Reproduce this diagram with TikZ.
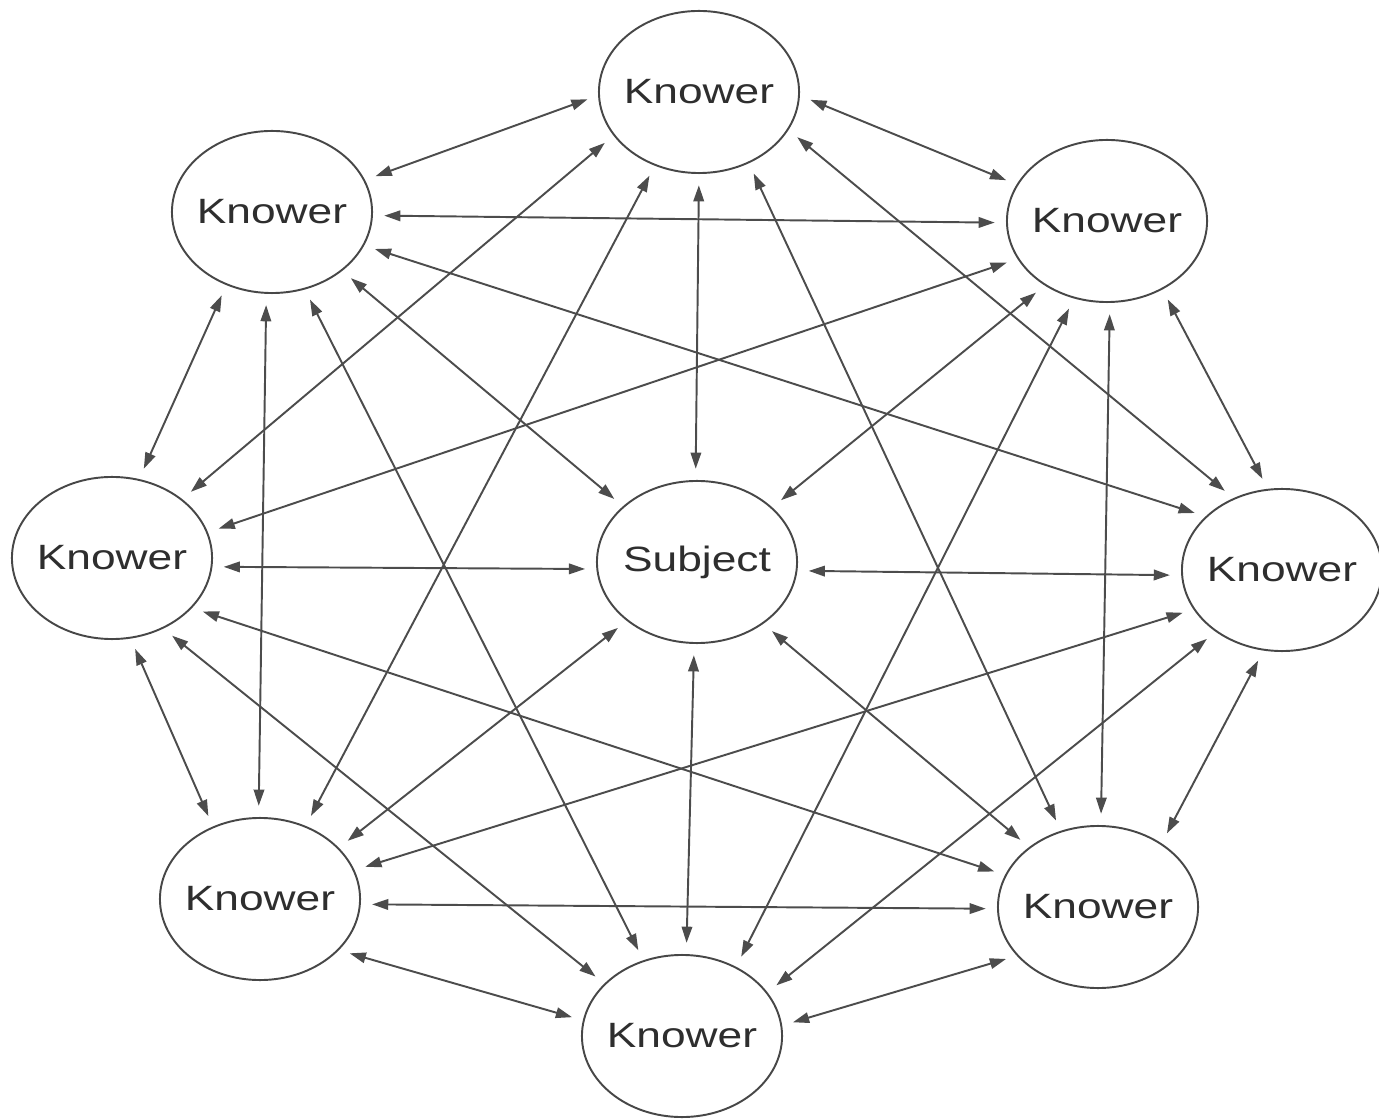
\documentclass[tikz,border=0pt]{standalone}
\usepackage{fontspec}
\setmainfont{Liberation Sans}[FakeStretch=1.26]
\usetikzlibrary{arrows.meta,shapes.geometric}

\begin{document}
\begin{tikzpicture}[x=.01cm,y=-.01cm,
  every node/.style={font=\fontsize{10}{12}\selectfont,text=black!82},
  knower/.style={ellipse,draw=black!72,line width=.55pt,minimum width=2cm,minimum height=1.62cm,inner xsep=-.06cm,inner ysep=0pt},
  link/.style={{Triangle[length=4.6pt,width=3pt]}-{Triangle[length=4.6pt,width=3pt]},draw=black!70,line width=.55pt,shorten <=3.2pt,shorten >=3.2pt}]
  \useasboundingbox (0,0) rectangle (1379,1119);
  \node[knower] (T) at (699,92) {Knower};
  \node[knower] (TL) at (272,212) {Knower};
  \node[knower] (TR) at (1107,221) {Knower};
  \node[knower] (L) at (112,558) {Knower};
  \node[knower] (R) at (1282,570) {Knower};
  \node[knower] (BL) at (260,899) {Knower};
  \node[knower] (BR) at (1098,907) {Knower};
  \node[knower] (B) at (682,1036) {Knower};
  \node[knower] (S) at (697,562) {Subject};
  \foreach \a/\b in {T.182/TL.19, T.358/TR.158, T.207/L.40, T.239/BL.58, T.270/S.91, T.305/BR.116, T.337/R.124,
      TL.358/TR.181, TL.340/R.145, TL.320/S.143, TL.293/B.117, TL.266/BL.91, TL.238/L.71,
      TR.203/L.15, TR.226/S.36, TR.247/B.52, TR.272/BR.88, TR.309/R.100,
      L.355/S.184, L.328/BR.161, L.306/B.146, L.283/BL.123,
      R.183/S.355, R.204/BL.17, R.223/B.27, R.257/BR.45,
      S.220/BL.33, S.268/B.87, S.317/BR.139,
      BL.357/BR.181, BL.327/B.171, BR.211/B.6}
    \draw[link] (\a) -- (\b);
\end{tikzpicture}
\end{document}
